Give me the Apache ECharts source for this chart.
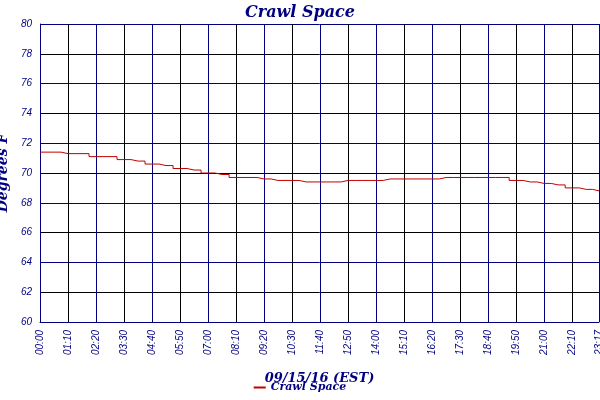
<!DOCTYPE html>
<html><head><meta charset="utf-8">
<script src="https://cdn.jsdelivr.net/npm/echarts@6/dist/echarts.min.js"></script>
<style>body{margin:0}#c{width:600px;height:400px}</style></head>
<body><div id="c"></div>
<script>
// minutes since midnight, 09/15/16
const minutes = [0,35,70,105,140,175,210,245,280,315,350,385,420,455,490,525,560,595,630,665,700,735,770,805,840,875,910,945,980,1015,1050,1085,1120,1155,1190,1225,1260,1295,1330,1365,1397];
const temps = [71.4,71.4,71.3,71.3,71.1,71.1,70.9,70.8,70.6,70.5,70.3,70.2,70.0,69.9,69.7,69.7,69.6,69.5,69.5,69.4,69.4,69.4,69.5,69.5,69.5,69.6,69.6,69.6,69.6,69.7,69.7,69.7,69.7,69.7,69.5,69.4,69.3,69.2,69.0,68.9,68.8];
const lastMin = 1397;

const navy = '#000080';
function hhmm(m) {
  const h = Math.floor(m / 60), mm = Math.round(m % 60);
  return String(h).padStart(2, '0') + ':' + String(mm).padStart(2, '0');
}

const chart = echarts.init(document.getElementById('c'));
chart.setOption({
  animation: false,
  title: {
    text: 'Crawl Space', left: 'center', top: 0,
    textStyle: { color: navy, fontStyle: 'italic', fontWeight: 'bold', fontSize: 16, fontFamily: 'DejaVu Serif' }
  },
  legend: {
    bottom: 2, left: 'center', icon: 'rect', itemWidth: 12, itemHeight: 2,
    textStyle: { color: navy, fontStyle: 'italic', fontWeight: 'bold', fontSize: 11, fontFamily: 'DejaVu Serif' }
  },
  grid: { left: 40, right: 1, top: 24, bottom: 78, outerBoundsMode: 'none', containLabel: false },
  xAxis: {
    type: 'value', min: 0, max: lastMin, interval: 70,
    name: '09/15/16 (EST)', nameLocation: 'middle', nameGap: 50,
    nameTextStyle: { color: navy, fontStyle: 'italic', fontWeight: 'bold', fontSize: 13, fontFamily: 'DejaVu Serif' },
    axisLine: { lineStyle: { color: navy } },
    axisTick: { show: false },
    axisLabel: {
      rotate: 90, color: navy, fontStyle: 'italic', fontSize: 10, showMaxLabel: true,
      formatter: v => hhmm(v)
    },
    splitLine: { show: true, lineStyle: { color: [navy, '#000'], width: 1 } }
  },
  yAxis: {
    type: 'value', min: 60, max: 80, interval: 2,
    name: 'Degrees F', nameLocation: 'middle', nameGap: 26,
    nameTextStyle: { color: navy, fontStyle: 'italic', fontWeight: 'bold', fontSize: 14, fontFamily: 'DejaVu Serif' },
    axisLine: { show: true, lineStyle: { color: navy } },
    axisTick: { show: false },
    axisLabel: { color: navy, fontStyle: 'italic', fontSize: 10 },
    splitLine: { lineStyle: { color: [navy, '#000'], width: 1 } }
  },
  series: [{
    name: 'Crawl Space', type: 'line', step: 'middle', showSymbol: false,
    color: '#c00000', lineStyle: { width: 1 },
    data: minutes.map((m, i) => [m, temps[i]])
  }]
});
</script></body></html>
